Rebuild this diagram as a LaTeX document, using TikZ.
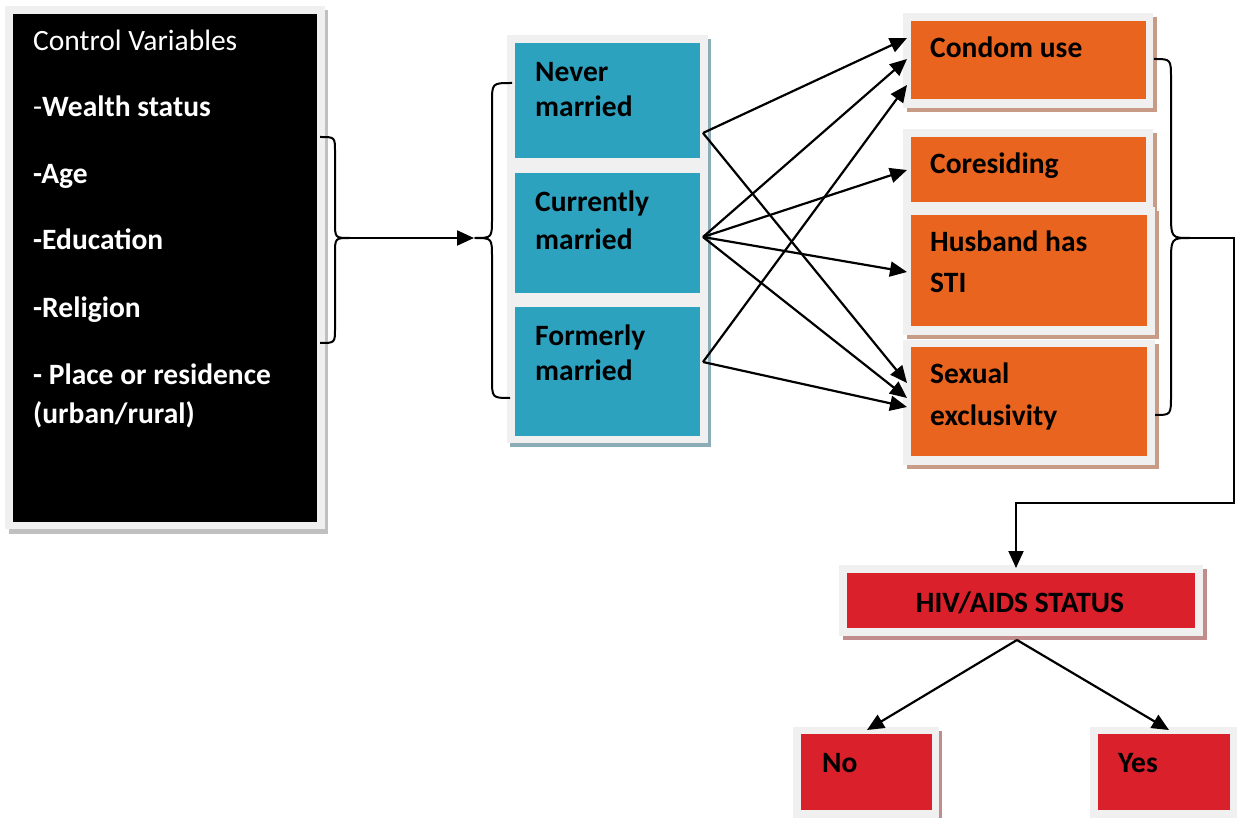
\documentclass[tikz,border=0pt]{standalone}
\usepackage{fontspec}
\setmainfont{Carlito}
\usetikzlibrary{arrows.meta}
\definecolor{blueF}{RGB}{44,162,191}
\definecolor{orangeF}{RGB}{233,100,30}
\definecolor{redF}{RGB}{218,32,42}
\definecolor{frameG}{RGB}{240,240,240}
\definecolor{blackSh}{RGB}{192,192,192}
\definecolor{blueSh}{RGB}{140,172,184}
\definecolor{orangeSh}{RGB}{200,155,135}
\definecolor{redSh}{RGB}{192,140,140}
\begin{document}
\begin{tikzpicture}[x=1pt,y=-1pt,
  arr/.style={line width=2.2pt,-{Triangle[length=17pt,width=15pt]}},
  bracepath/.style={line width=2pt,line join=round},
  fillbox/.style={anchor=north west,inner sep=0pt,outer sep=0pt,draw=none},
  lbl/.style={anchor=base west,inner sep=0pt,font=\fontsize{29.5}{34}\selectfont\bfseries},
  wlbl/.style={lbl,text=white}]
\useasboundingbox (0,0) rectangle (1237,818);

% ---- control variables box
\fill[blackSh] (9,10) rectangle (328,534);
\fill[frameG] (5,6) rectangle (325,529);
\node[fillbox,fill=black,minimum width=304pt,minimum height=508pt] (cv) at (13,14) {};
\node[wlbl,font=\fontsize{29.5}{34}\selectfont\mdseries] (cv0) at (33,51) {Control Variables};
\node[wlbl] (cv1) at (33,117) {\mdseries-\bfseries Wealth status};
\node[wlbl] (cv2) at (33,184) {-Age};
\node[wlbl] (cv3) at (33,250) {-Education};
\node[wlbl] (cv4) at (33,318) {-Religion};
\node[wlbl] (cv5) at (33,384) {- Place or residence};
\node[wlbl] (cv6) at (33,423) {(urban/rural)};

% ---- marital status boxes
\fill[blueSh] (510,39) rectangle (711,447);
\fill[frameG] (507,35) rectangle (708,443);
\node[fillbox,fill=blueF,minimum width=185pt,minimum height=115pt] (nm) at (515,43) {};
\node[fillbox,fill=blueF,minimum width=185pt,minimum height=120pt] (cm) at (515,173) {};
\node[fillbox,fill=blueF,minimum width=185pt,minimum height=129pt] (fm) at (515,307) {};
\node[lbl] (nm1) at (535,82) {Never};
\node[lbl] (nm2) at (535,117) {married};
\node[lbl] (cm1) at (535,212) {Currently};
\node[lbl] (cm2) at (535,250) {married};
\node[lbl] (fm1) at (535,345) {Formerly};
\node[lbl] (fm2) at (535,381) {married};

% ---- mediators
\fill[orangeSh] (907,17) rectangle (1157,112);
\fill[frameG] (903,13) rectangle (1153,108);
\node[fillbox,fill=orangeF,minimum width=235pt,minimum height=78pt] (cu) at (911,21) {};
\fill[orangeSh] (907,133) rectangle (1157,214);
\fill[frameG] (903,129) rectangle (1153,210);
\node[fillbox,fill=orangeF,minimum width=235pt,minimum height=65pt] (co) at (911,137) {};
\fill[orangeSh] (907,211) rectangle (1159,339);
\fill[frameG] (903,207) rectangle (1155,335);
\node[fillbox,fill=orangeF,minimum width=236pt,minimum height=111pt] (hu) at (911,215) {};
\fill[orangeSh] (907,344) rectangle (1159,469);
\fill[frameG] (903,340) rectangle (1155,465);
\node[fillbox,fill=orangeF,minimum width=236pt,minimum height=109pt] (se) at (911,347) {};
\node[lbl] (cu1) at (930,58) {Condom use};
\node[lbl] (co1) at (930,174) {Coresiding};
\node[lbl] (hu1) at (930,252) {Husband has};
\node[lbl] (hu2) at (930,293) {STI};
\node[lbl] (se1) at (930,383) {Sexual};
\node[lbl] (se2) at (930,425) {exclusivity};

% ---- outcome
\fill[redSh] (843,569) rectangle (1207,640);
\fill[frameG] (839,565) rectangle (1203,636);
\node[fillbox,fill=redF,minimum width=348pt,minimum height=55pt] (hiv) at (847,573) {};
\node[lbl,anchor=base] (hiv1) at (1020,612) {HIV/AIDS STATUS};
\fill[redSh] (797,731) rectangle (942,818);
\fill[frameG] (793,727) rectangle (939,818);
\node[fillbox,fill=redF,minimum width=131pt,minimum height=76pt] (no) at (801,734) {};
\node[lbl] (no1) at (822,772) {No};
\fill[redSh] (1094,731) rectangle (1240,818);
\fill[frameG] (1090,727) rectangle (1237,818);
\node[fillbox,fill=redF,minimum width=132pt,minimum height=76pt] (yes) at (1098,734) {};
\node[lbl] (yes1) at (1118,772) {Yes};

% ---- braces
\draw[bracepath] (320,137) .. controls (335,137) .. (335,152) -- (335,222)
  .. controls (335,238) .. (350,238) .. controls (335,238) .. (335,254)
  -- (335,328) .. controls (335,343) .. (320,343);
\draw[bracepath] (512,83) .. controls (492,83) .. (492,103) -- (492,218)
  .. controls (492,238) .. (475,238) .. controls (492,238) .. (492,258)
  -- (492,378) .. controls (492,398) .. (510,398);
\draw[bracepath] (1154,59) .. controls (1171,59) .. (1171,79) -- (1171,212)
  .. controls (1171,238) .. (1190,238) .. controls (1171,238) .. (1171,264)
  -- (1171,395) .. controls (1171,415) .. (1155,415);
\coordinate (b1) at (350,238);
\coordinate (b2) at (474,238);
\coordinate (b3) at (1190,238);

% ---- connectors
\draw[arr] (b1) -- (b2);
\coordinate (nmP) at (703,133);
\coordinate (cmP) at (703,237);
\coordinate (fmP) at (703,362);
\coordinate (cuA) at (907,38);
\coordinate (cuB) at (907,59);
\coordinate (cuC) at (907,85);
\coordinate (coA) at (907,170);
\coordinate (huA) at (907,272);
\coordinate (seA) at (907,383);
\coordinate (seB) at (907,398);
\coordinate (seC) at (907,407);
\draw[arr] (nmP) -- (cuA);
\draw[arr] (nmP) -- (seA);
\draw[arr] (cmP) -- (cuB);
\draw[arr] (cmP) -- (coA);
\draw[arr] (cmP) -- (huA);
\draw[arr] (cmP) -- (seB);
\draw[arr] (fmP) -- (cuC);
\draw[arr] (fmP) -- (seC);

\coordinate (hivIn) at (1016,568);
\draw[arr,line width=2pt,line join=miter] (b3) -- (1234,238) -- (1234,503) -- (1016,503) -- (hivIn);
\coordinate (hivOut) at (1017,640);
\coordinate (noIn) at (867,730);
\coordinate (yesIn) at (1169,730);
\draw[arr] (hivOut) -- (noIn);
\draw[arr] (hivOut) -- (yesIn);
\end{tikzpicture}
\end{document}
